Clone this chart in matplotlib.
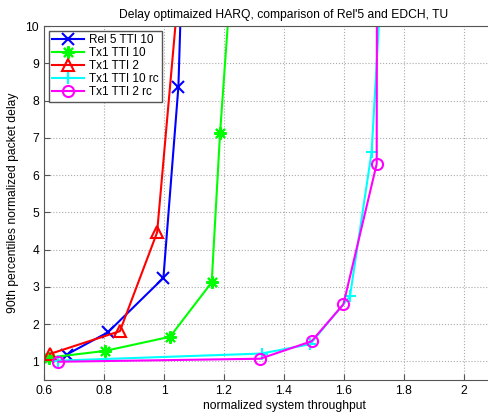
import numpy as np
import matplotlib
matplotlib.use("Agg")
import matplotlib.pyplot as plt

plt.rcParams['font.family'] = ['Liberation Sans', 'DejaVu Sans']

# (last point of each curve lies above the axes)
rel5_x = [0.675, 0.813, 0.998, 1.048, 1.058]
rel5_y = [1.18, 1.78, 3.24, 8.37, 11.0]

tx10_x = [0.615, 0.803, 1.02, 1.159, 1.187, 1.23]
tx10_y = [1.10, 1.28, 1.66, 3.12, 7.14, 12.0]

tx2_x = [0.62, 0.853, 0.977, 1.06]
tx2_y = [1.20, 1.81, 4.46, 12.0]

tx10rc_x = [0.648, 1.325, 1.487, 1.62, 1.692, 1.73]
tx10rc_y = [1.02, 1.21, 1.46, 2.75, 6.61, 12.0]

tx2rc_x = [0.648, 1.32, 1.492, 1.598, 1.709, 1.71]
tx2rc_y = [0.99, 1.07, 1.54, 2.53, 6.30, 12.0]

labels = ['Rel 5 TTI 10', 'Tx1 TTI 10', 'Tx1 TTI 2', 'Tx1 TTI 10 rc', 'Tx1 TTI 2 rc']
xticks = [0.6, 0.8, 1.0, 1.2, 1.4, 1.6, 1.8, 2.0]
xticklabels = ['0.6', '0.8', '1', '1.2', '1.4', '1.6', '1.8', '2']

fs = 8.7
fig = plt.figure(figsize=(4.88, 4.12), dpi=100)
# axes runs past the right edge of the figure, as in the original crop
ax = fig.add_axes([44/488, 32/412, 480/488, 354/412])

lw = 1.5
ax.plot(rel5_x, rel5_y, 'x-', color='#0000ff', lw=lw, ms=8, mew=1.5, label=labels[0])
ax.plot(tx10_x, tx10_y, marker=(8, 2, 0), ls='-', color='#00ff00', lw=lw, ms=9, mew=1.5, label=labels[1])
ax.plot(tx2_x, tx2_y, '^-', color='#ff0000', lw=lw, ms=9, mew=1.5, mfc='none', label=labels[2])
ax.plot(tx10rc_x, tx10rc_y, '+-', color='#00ffff', lw=lw, ms=9, mew=1.5, label=labels[3])
ax.plot(tx2rc_x, tx2rc_y, 'o-', color='#ff00ff', lw=lw, ms=8, mew=1.5, mfc='none', label=labels[4])

ax.set_xlim(0.6, 2.2)
ax.set_ylim(0.5, 10)
ax.set_xticks(xticks)
ax.set_xticklabels(xticklabels)
ax.set_yticks(range(1, 11))
ax.tick_params(direction='in', labelsize=fs, length=4, color='#555555')
ax.grid(True, linestyle=':', color='#aaaaaa', lw=0.8)
for s in ax.spines.values():
    s.set_color('#555555')

ax.set_title("Delay optimaized HARQ, comparison of Rel'5 and EDCH, TU", fontsize=fs, pad=6)
ax.set_xlabel('normalized system throughput', fontsize=fs, labelpad=2)
ax.set_ylabel('90th percentiles normalized packet delay', fontsize=fs, labelpad=5)

leg = ax.legend(loc='upper left', fontsize=8.5, fancybox=False, framealpha=1,
                edgecolor='#555555', borderaxespad=0.4, handlelength=2.7,
                handletextpad=0.4, labelspacing=0.08, borderpad=0.3)

fig.savefig('out.png', dpi=100)
